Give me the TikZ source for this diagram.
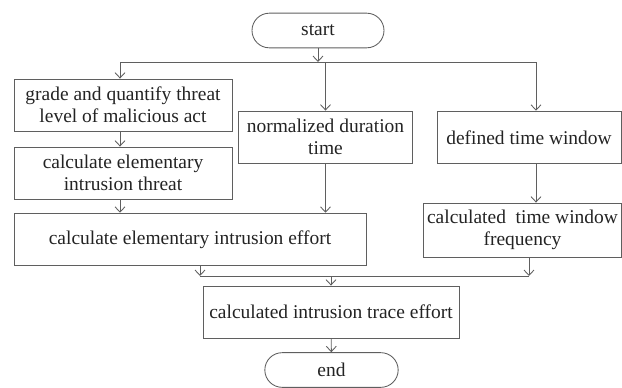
\documentclass[tikz,border=0pt]{standalone}
\usepackage{fontspec}
\setmainfont{Liberation Serif}
\usetikzlibrary{arrows.meta}
\definecolor{linegray}{RGB}{95,95,95}
\definecolor{textgray}{RGB}{35,35,35}
\tikzset{
  procbox/.style={draw=linegray, line width=0.65pt, rectangle, align=center, inner sep=0.75pt,
    text=textgray, font=\fontsize{14.6}{16.5}\selectfont},
  termbox/.style={procbox, rounded corners=13pt},
  flow/.style={draw=linegray, line width=0.65pt, -{Straight Barb[length=4pt,width=7.5pt]}},
  bus/.style={draw=linegray, line width=0.65pt}
}
\begin{document}
\begin{tikzpicture}[x=0.75pt,y=0.75pt,yscale=-1,xscale=1]
%set diagram left start at 0, and has height of 385
\path (0,0) rectangle (622,385);

%Shape: Terminal [id:start]
\node[termbox, minimum width=99pt, minimum height=26pt] (start) at (318,30.5) {start};

%Shape: Rectangle [id:grade]
\node[procbox, minimum width=163.5pt, minimum height=39pt] (grade) at (123,105) {grade and quantify threat\\level of malicious act};
%Shape: Rectangle [id:threat]
\node[procbox, minimum width=163.5pt, minimum height=39pt] (threat) at (123,173) {calculate elementary\\intrusion threat};
%Shape: Rectangle [id:norm]
\node[procbox, minimum width=131pt, minimum height=39pt] (norm) at (325.5,137) {normalized duration\\time};
%Shape: Rectangle [id:window]
\node[procbox, minimum width=138pt, minimum height=39.5pt] (window) at (529,137.5) {defined time window};
%Shape: Rectangle [id:effort]
\node[procbox, minimum width=264pt, minimum height=39.5pt] (effort) at (190,239.5) {calculate elementary intrusion effort};
%Shape: Rectangle [id:freq]
\node[procbox, minimum width=148pt, minimum height=40.5pt] (freq) at (522.5,230) {calculated \ time window\\frequency};
%Shape: Rectangle [id:trace]
\node[procbox, minimum width=192pt, minimum height=39pt] (trace) at (331,312) {calculated intrusion trace effort};

%Shape: Terminal [id:end]
\node[termbox, minimum width=100pt, minimum height=26pt] (end) at (331.5,370) {end};

%Straight Lines [id:topbus]
\coordinate (topL) at (120,62);
\coordinate (topR) at (536,62);
\draw[flow] (start) -- (start |- topL);
\draw[bus] (topL) -- (topR);
\draw[flow] (topL) -- (topL |- grade.north);
\draw[flow] (norm |- topL) -- (norm);
\draw[flow] (topR) -- (topR |- window.north);

%Straight Lines [id:columns]
\draw[flow] (grade.south -| topL) -- (threat.north -| topL);
\draw[flow] (threat.south -| topL) -- (effort.north -| topL);
\draw[flow] (norm) -- (norm |- effort.north);
\draw[flow] (window.south -| topR) -- (freq.north -| topR);

%Straight Lines [id:botbus]
\coordinate (botL) at (200,276);
\coordinate (botR) at (529,276);
\draw[flow] (effort.south -| botL) -- (botL);
\draw[flow] (freq.south -| botR) -- (botR);
\draw[bus] (botL) -- (botR);
\draw[flow] (trace |- botL) -- (trace);
\draw[flow] (trace) -- (end);

\end{tikzpicture}
\end{document}
